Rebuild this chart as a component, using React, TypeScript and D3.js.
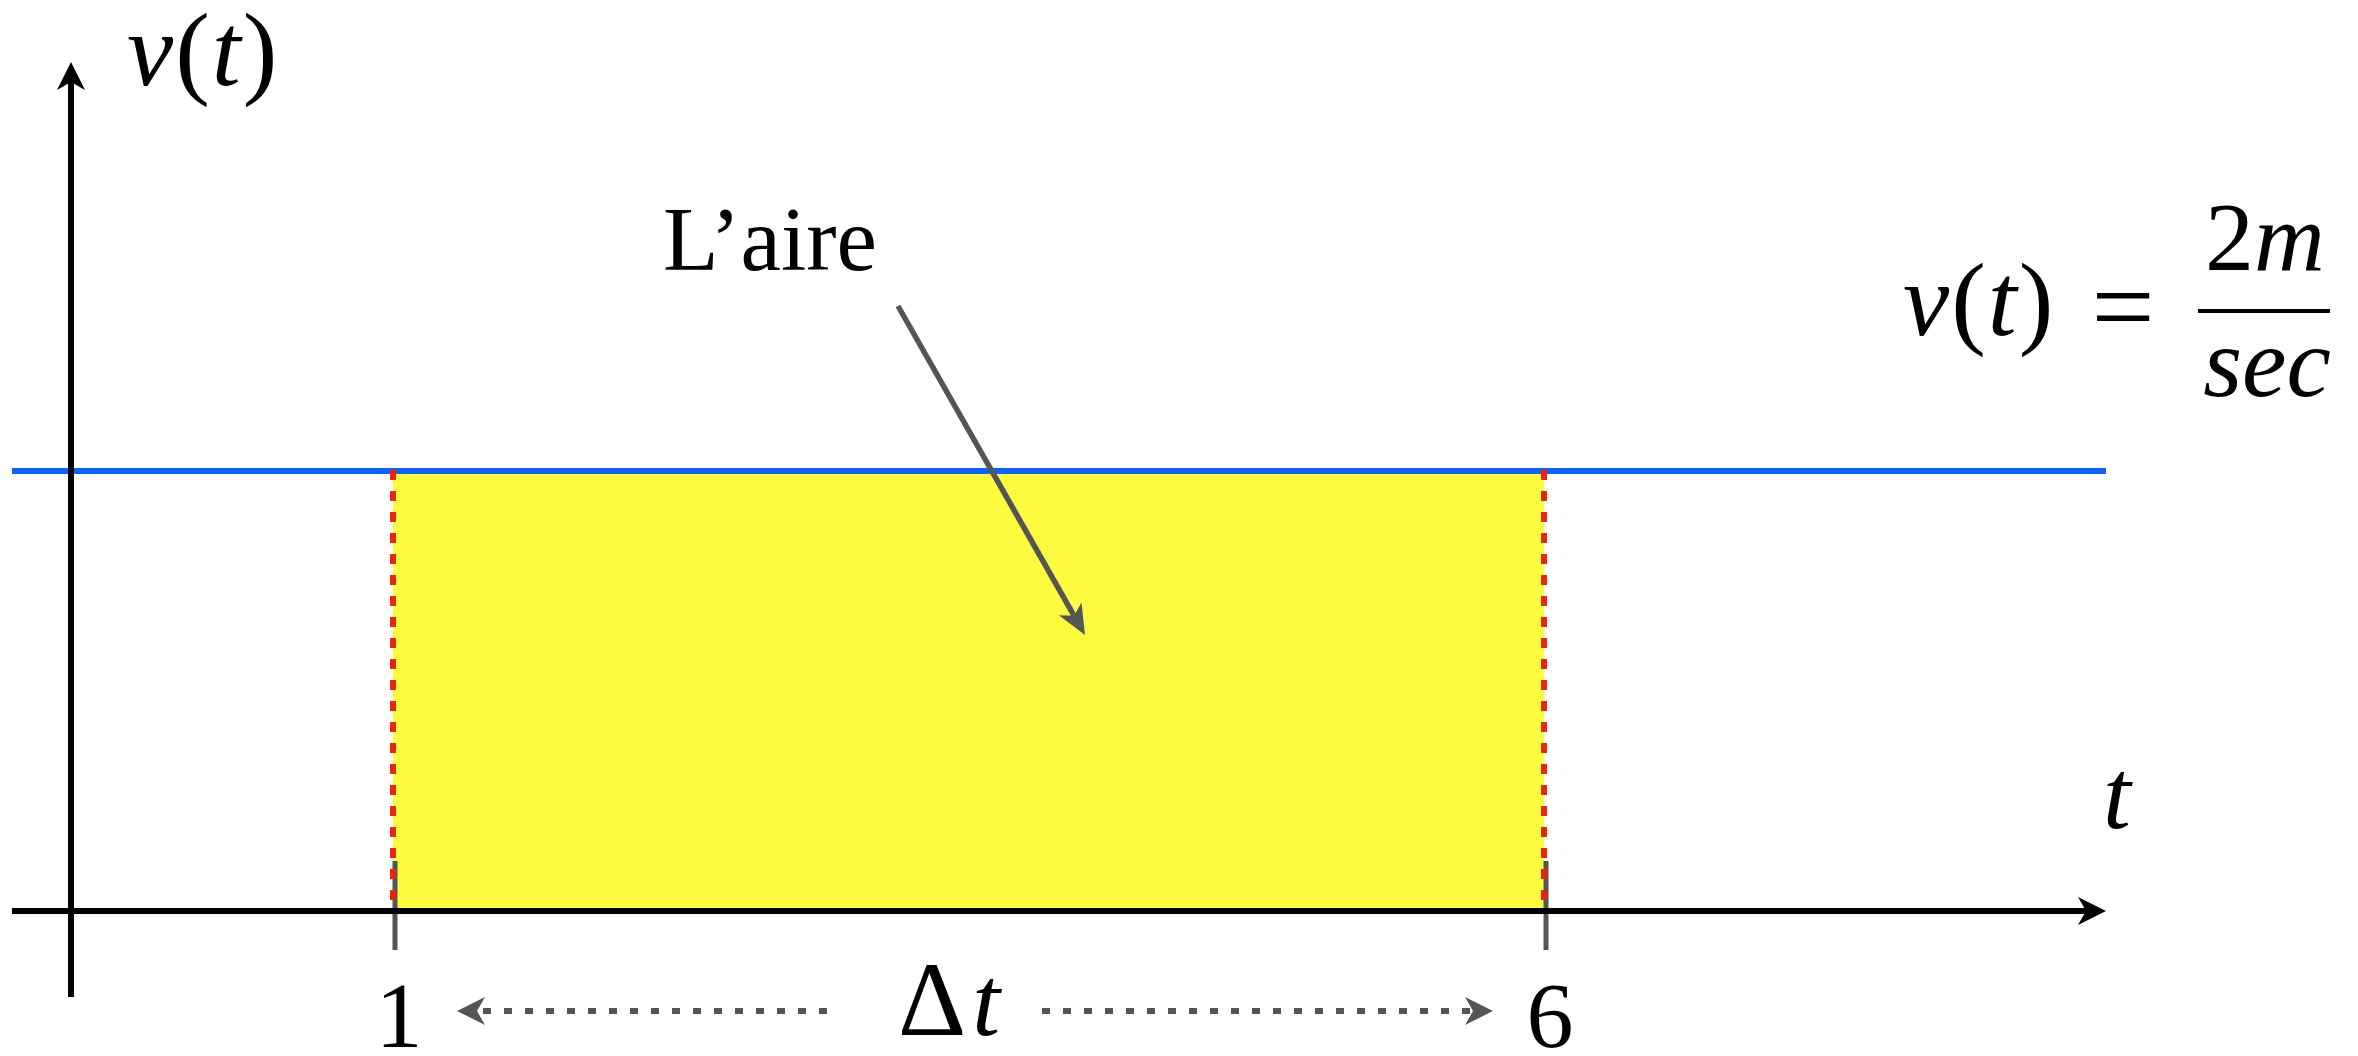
import React from "react";
import * as d3 from "d3";

// ---- data ----
const intervalT: number[] = [1, 6]; // start and end of the time interval
const tickLabels: string[] = ["1", "6"];
const velocityValues: number[] = [2]; // constant velocity v(t) = 2 m/sec
const areaLabel = "L\u2019aire";

const W = 2358;
const H = 1056;

const FONT = "'Liberation Serif', 'Times New Roman', serif";

function arrowHead(tipX: number, tipY: number, ux: number, uy: number, L: number, hw: number, notch: number) {
  const nx = -uy;
  const ny = ux;
  const bx = tipX - L * ux;
  const by = tipY - L * uy;
  const mx = tipX - (L - notch) * ux;
  const my = tipY - (L - notch) * uy;
  const p = d3.path();
  p.moveTo(tipX, tipY);
  p.lineTo(bx + hw * nx, by + hw * ny);
  p.lineTo(mx, my);
  p.lineTo(bx - hw * nx, by - hw * ny);
  p.closePath();
  return p.toString();
}

export default function App() {
  const x = d3.scaleLinear().domain([intervalT[0], intervalT[1]]).range([393, 1544]);
  const y = d3.scaleLinear().domain([0, 2]).range([911, 471]);

  const axisLeft = 12;
  const axisRight = 2106;
  const yAxisX = 71;
  const yAxisTop = 62;
  const yAxisBottom = 997;
  const v = velocityValues[0];

  const x0 = x(intervalT[0]);
  const x1 = x(intervalT[1]);
  const yV = y(v);
  const yZero = y(0);

  const gray = "#555555";

  // annotation arrow
  const aStart: [number, number] = [898, 306];
  const aTip: [number, number] = [1085, 635];
  const adx = aTip[0] - aStart[0];
  const ady = aTip[1] - aStart[1];
  const alen = Math.hypot(adx, ady);
  const aux = adx / alen;
  const auy = ady / alen;

  const dashY = 1011;

  return (
    <svg
      width={W}
      height={H}
      viewBox={`0 0 ${W} ${H}`}
      style={{ position: "absolute", left: 0, top: 0, display: "block", background: "#ffffff" }}
    >
      <rect x={0} y={0} width={W} height={H} fill="#ffffff" />
      {/* area */}
      <rect x={x0} y={yV} width={x1 - x0} height={yZero - yV} fill="#fefc41" />

      {/* velocity line */}
      <line x1={axisLeft} x2={axisRight} y1={yV} y2={yV} stroke="#0f62f2" strokeWidth={6} />

      {/* ticks */}
      {intervalT.map((t, i) => (
        <line key={"tk" + i} x1={x(t) + 2} x2={x(t) + 2} y1={861} y2={950} stroke={gray} strokeWidth={5} />
      ))}
      {/* red dashed verticals */}
      {intervalT.map((t, i) => (
        <line
          key={"rd" + i}
          x1={x(t)}
          x2={x(t)}
          y1={yV - 1}
          y2={yZero}
          stroke="#e8260c"
          strokeWidth={6}
          strokeDasharray="10 11"
        />
      ))}

      {/* x axis */}
      <line x1={axisLeft} x2={axisRight - 18} y1={yZero} y2={yZero} stroke="#000" strokeWidth={6} />
      <path d={arrowHead(axisRight, yZero, 1, 0, 28, 14, 8)} fill="#000" />
      {/* y axis */}
      <line x1={yAxisX} x2={yAxisX} y1={yAxisBottom} y2={yAxisTop + 18} stroke="#000" strokeWidth={6} />
      <path d={arrowHead(yAxisX, yAxisTop, 0, -1, 28, 14, 8)} fill="#000" />

      {/* annotation arrow */}
      <line
        x1={aStart[0]}
        y1={aStart[1]}
        x2={aTip[0] - aux * 20}
        y2={aTip[1] - auy * 20}
        stroke={gray}
        strokeWidth={5.5}
      />
      <path d={arrowHead(aTip[0], aTip[1], aux, auy, 30, 13, 8)} fill={gray} />
      <text x={663} y={270} fontFamily={FONT} fontSize={91} fill="#000">
        {areaLabel}
      </text>

      {/* dotted interval arrows */}
      <line x1={827} x2={480} y1={dashY} y2={dashY} stroke={gray} strokeWidth={6} strokeDasharray="8 13" />
      <path d={arrowHead(457, dashY, -1, 0, 28, 14, 8)} fill={gray} />
      <line x1={1042} x2={1472} y1={dashY} y2={dashY} stroke={gray} strokeWidth={6} strokeDasharray="8 13" />
      <path d={arrowHead(1493, dashY, 1, 0, 28, 14, 8)} fill={gray} />

      {/* tick labels */}
      {intervalT.map((t, i) => (
        <text
          key={"lb" + i}
          x={x(t) + 6}
          y={1047}
          textAnchor="middle"
          fontFamily={FONT}
          fontSize={94}
          fill="#000"
        >
          {tickLabels[i]}
        </text>
      ))}

      {/* Delta t */}
      <text x={898} y={1035} fontFamily={FONT} fill="#000">
        <tspan fontSize={106}>{"\u0394"}</tspan>
        <tspan fontSize={100} fontStyle="italic" dx={6}>
          t
        </tspan>
      </text>

      {/* axis labels */}
      <text x={127} y={85} fontFamily={FONT} fontSize={104} fill="#000">
        <tspan fontStyle="italic">v</tspan>
        <tspan dx={2}>(</tspan>
        <tspan fontStyle="italic" dx={2}>t</tspan>
        <tspan dx={2}>)</tspan>
      </text>
      <text x={2103} y={828} fontFamily={FONT} fontSize={100} fontStyle="italic" fill="#000">
        t
      </text>

      {/* formula */}
      <text x={1903} y={335} fontFamily={FONT} fontSize={104} fill="#000">
        <tspan fontStyle="italic">v</tspan>
        <tspan dx={2}>(</tspan>
        <tspan fontStyle="italic" dx={2}>t</tspan>
        <tspan dx={2}>)</tspan>
      </text>
      <text x={2123} y={344} textAnchor="middle" fontFamily={FONT} fontSize={112} fill="#000">
        =
      </text>
      <line x1={2198} x2={2330} y1={311} y2={311} stroke="#000" strokeWidth={4} />
      <text x={2265} y={270} textAnchor="middle" fontFamily={FONT} fontSize={98} fill="#000">
        <tspan>{String(v)}</tspan>
        <tspan fontStyle="italic">m</tspan>
      </text>
      <text x={2267} y={396} textAnchor="middle" fontFamily={FONT} fontSize={100} fontStyle="italic" fill="#000">
        sec
      </text>
    </svg>
  );
}
